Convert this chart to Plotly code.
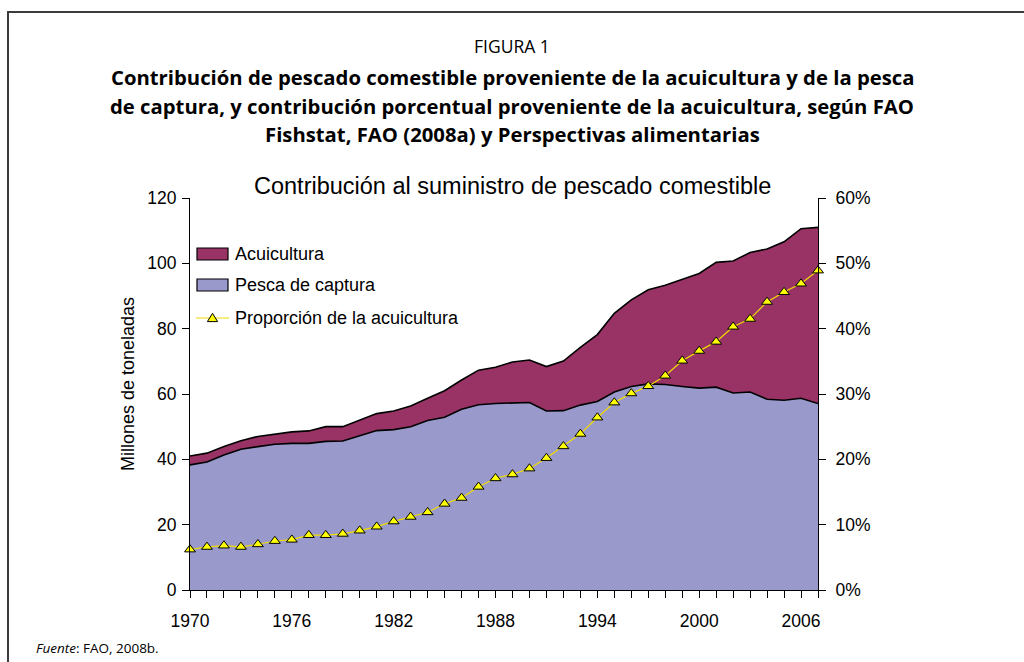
import plotly.graph_objects as go

# ---------------- data ----------------
years = list(range(1970, 2008))

capture = [38.3, 39.2, 41.3, 43.1, 43.9, 44.6, 44.9, 44.9, 45.5, 45.6,
           47.2, 48.8, 49.1, 50.0, 51.9, 52.9, 55.3, 56.7, 57.1, 57.3,
           57.4, 54.8, 54.9, 56.6, 57.7, 60.6, 62.3, 63.1, 62.9, 62.3,
           61.8, 62.1, 60.3, 60.6, 58.4, 58.1, 58.7, 57.1]

aquaculture = [2.7, 2.7, 2.6, 2.6, 3.1, 3.2, 3.5, 3.8, 4.5, 4.4,
               4.9, 5.2, 5.7, 6.3, 6.8, 8.1, 9.0, 10.6, 11.1, 12.5,
               13.0, 13.6, 15.2, 17.7, 20.5, 24.1, 26.5, 28.8, 30.4, 32.9,
               35.1, 38.2, 40.4, 42.7, 46.0, 48.5, 51.9, 53.9]

share_pct = [6.2, 6.6, 6.8, 6.6, 7.0, 7.5, 7.7, 8.4, 8.4, 8.6,
             9.1, 9.7, 10.5, 11.2, 11.9, 13.2, 14.1, 15.8, 17.1, 17.7,
             18.6, 20.2, 22.0, 23.9, 26.4, 28.7, 30.1, 31.2, 32.8, 35.1,
             36.6, 38.0, 40.3, 41.5, 44.1, 45.6, 46.9, 48.9]

series_names = ["Acuicultura", "Pesca de captura", "Proporción de la acuicultura"]
x_tick_step = 6
y_left_ticks = [0, 20, 40, 60, 80, 100, 120]
y_right_range = [0, 60]
y_right_step = 10

fig_label = "FIGURA 1"
title_lines = [
    "Contribución de pescado comestible proveniente de la acuicultura y de la pesca",
    "de captura, y contribución porcentual proveniente de la acuicultura, según FAO",
    "Fishstat, FAO (2008a) y Perspectivas alimentarias",
]
chart_title = "Contribución al suministro de pescado comestible"
y_title = "Millones de toneladas"
source_text = "<i>Fuente</i>: FAO, 2008b."

# ---------------- styles ----------------
MAROON = "#993366"
PERI = "#9999CC"
YEL_LINE = "#F0DC00"
YEL_FILL = "#FFFF00"
ARIAL = "Liberation Sans, Arial, sans-serif"
AX_FONT = dict(family=ARIAL, size=17.5, color="#000")
HDR_FONT = "Open Sans, Noto Sans, sans-serif"

W, H = 1024, 662
ML, MR, MT, MB = 190, 206, 198, 72
PW, PH = W - ML - MR, H - MT - MB


def px(x):
    return (x - ML) / PW


def py(y):
    return (H - MB - y) / PH


fig = go.Figure()

fig.add_trace(go.Scatter(
    x=years, y=capture, name=series_names[1], stackgroup="one", mode="lines",
    line=dict(color="#000", width=1.6), fillcolor=PERI, showlegend=False,
))
fig.add_trace(go.Scatter(
    x=years, y=aquaculture, name=series_names[0], stackgroup="one", mode="lines",
    line=dict(color="#000", width=1.6), fillcolor=MAROON, showlegend=False,
))
fig.add_trace(go.Scatter(
    x=years, y=share_pct, name=series_names[2], yaxis="y2", mode="lines+markers",
    line=dict(color=YEL_LINE, width=1.2), cliponaxis=False,
    marker=dict(symbol="triangle-up", size=9.5, color=YEL_FILL,
                line=dict(color="#000", width=1)),
    showlegend=False,
))

axis_common = dict(showgrid=False, zeroline=False, showline=True, linecolor="#000",
                   linewidth=1, ticks="outside", tickcolor="#000", ticklen=7,
                   tickfont=AX_FONT)

fig.update_layout(
    width=W, height=H,
    margin=dict(l=ML, r=MR, t=MT, b=MB),
    paper_bgcolor="white", plot_bgcolor="white",
    showlegend=False,
    xaxis=dict(range=[years[0], years[-1]], tick0=years[0], dtick=x_tick_step,
               minor=dict(dtick=1, ticks="outside", ticklen=7, tickcolor="#000"),
               ticklabelstandoff=8, **axis_common),
    yaxis=dict(range=[y_left_ticks[0], y_left_ticks[-1]], tickvals=y_left_ticks,
               ticklabelstandoff=2, **axis_common),
    yaxis2=dict(range=y_right_range, tickmode="linear", tick0=0, dtick=y_right_step,
                ticksuffix="%", overlaying="y", side="right",
                ticklabelstandoff=6, **axis_common),
)

shapes = []
# outer frame
shapes.append(dict(type="rect", xref="paper", yref="paper",
                   x0=px(8), x1=px(1060), y0=py(700), y1=py(12),
                   line=dict(color="#3c3c3c", width=2), fillcolor="rgba(0,0,0,0)", layer="below"))
# manual legend
shapes.append(dict(type="rect", xref="paper", yref="paper",
                   x0=px(197), x1=px(228), y0=py(260), y1=py(248),
                   line=dict(color="#000", width=1.2), fillcolor=MAROON))
shapes.append(dict(type="rect", xref="paper", yref="paper",
                   x0=px(197), x1=px(228), y0=py(291), y1=py(279),
                   line=dict(color="#000", width=1.2), fillcolor=PERI))
shapes.append(dict(type="line", xref="paper", yref="paper",
                   x0=px(196), x1=px(229), y0=py(318), y1=py(318),
                   line=dict(color=YEL_LINE, width=1.2)))
tri = "M {},{} L {},{} L {},{} Z".format(px(212.5), py(313.3), px(207.4), py(321.6),
                                          px(217.6), py(321.6))
shapes.append(dict(type="path", xref="paper", yref="paper", path=tri,
                   line=dict(color="#000", width=1), fillcolor=YEL_FILL))

annotations = []
leg_font = dict(family=ARIAL, size=18, color="#000")
for name, yc in zip(series_names, [254, 285, 318]):
    annotations.append(dict(xref="paper", yref="paper", x=px(233), y=py(yc),
                            xanchor="left", yanchor="middle", text=name,
                            showarrow=False, font=leg_font))

annotations.append(dict(xref="paper", yref="paper", x=px(512), y=py(46),
                        xanchor="center", yanchor="middle", text=fig_label,
                        showarrow=False, font=dict(family=HDR_FONT, size=17.5, color="#000")))
for line, yc in zip(title_lines, [77, 106, 134]):
    annotations.append(dict(xref="paper", yref="paper", x=px(512), y=py(yc),
                            xanchor="center", yanchor="middle", text="<b>" + line + "</b>",
                            showarrow=False, font=dict(family=HDR_FONT, size=20.3, color="#000")))
annotations.append(dict(xref="paper", yref="paper", x=px(512), y=py(186),
                        xanchor="center", yanchor="middle", text=chart_title,
                        showarrow=False, font=dict(family=ARIAL, size=23.5, color="#000")))
annotations.append(dict(xref="paper", yref="paper", x=px(128), y=py(384),
                        xanchor="center", yanchor="middle", text=y_title, textangle=-90,
                        showarrow=False, font=leg_font))
annotations.append(dict(xref="paper", yref="paper", x=px(34), y=py(648),
                        xanchor="left", yanchor="middle", text=source_text,
                        showarrow=False, font=dict(family=HDR_FONT, size=13.5, color="#000")))

fig.update_layout(shapes=shapes, annotations=annotations)

fig.write_html("out.html", config={"displayModeBar": False},
               post_script="document.body.style.margin='0';document.body.style.padding='0';")
